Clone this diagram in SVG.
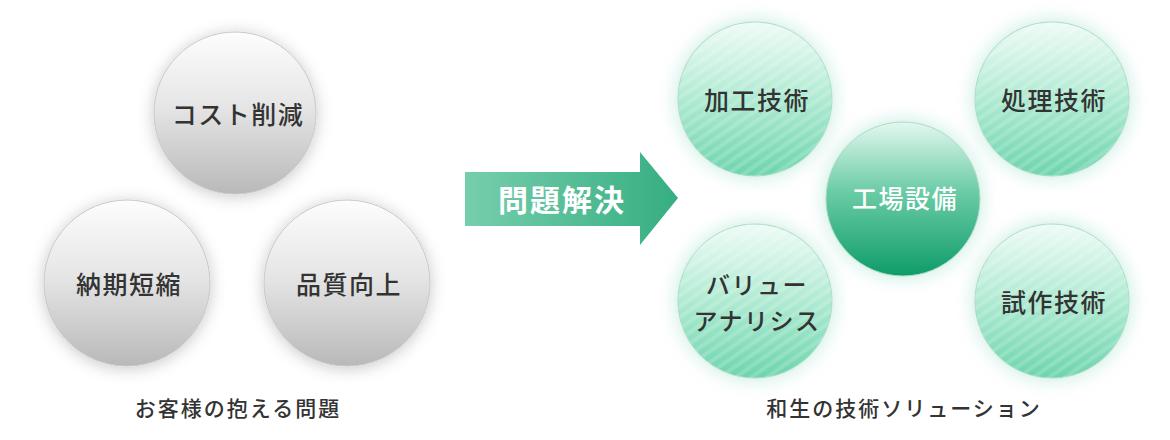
<svg xmlns="http://www.w3.org/2000/svg" width="1170" height="440" viewBox="0 0 1170 440">
<style>
.lbl{font-family:"Noto Sans CJK JP","Noto Sans CJK SC",sans-serif;fill:#333;font-size:25px;font-weight:500;text-anchor:middle;dominant-baseline:central;letter-spacing:1.5px}
.lbl2{font-size:24px}
.cap{font-family:"Noto Sans CJK JP","Noto Sans CJK SC",sans-serif;fill:#333;font-size:21px;font-weight:500;text-anchor:middle;dominant-baseline:central;letter-spacing:2px}
.gray{fill:url(#gGray);stroke:#c8c8c8;stroke-width:1;filter:url(#shGray)}
.green{fill:url(#gGreen);stroke:#a8dcc6;stroke-width:1;filter:url(#shGreen)}
.stripe{fill:url(#stripes)}
</style>
<defs>
<linearGradient id="gGray" x1="0" y1="0" x2="0" y2="1">
<stop offset="0" stop-color="#fdfdfd"/>
<stop offset="0.45" stop-color="#e6e6e6"/>
<stop offset="1" stop-color="#b9b9b9"/>
</linearGradient>
<linearGradient id="gGreen" x1="0" y1="0" x2="0" y2="1">
<stop offset="0" stop-color="#eefbf6"/>
<stop offset="0.45" stop-color="#b6ecd6"/>
<stop offset="1" stop-color="#6dd5ad"/>
</linearGradient>
<linearGradient id="gCenter" x1="0" y1="0" x2="0" y2="1">
<stop offset="0" stop-color="#e3f8ef"/>
<stop offset="0.45" stop-color="#6bcca6"/>
<stop offset="1" stop-color="#0f9c69"/>
</linearGradient>
<linearGradient id="gArrow" x1="0" y1="0" x2="1" y2="0">
<stop offset="0" stop-color="#76ceac"/>
<stop offset="1" stop-color="#36ae82"/>
</linearGradient>
<pattern id="stripes" width="9" height="9" patternUnits="userSpaceOnUse" patternTransform="rotate(-35)">
<rect x="0" y="0" width="9" height="4" fill="#ffffff" fill-opacity="0.16"/>
</pattern>
<filter id="shGray" x="-30%" y="-30%" width="160%" height="160%">
<feDropShadow dx="0" dy="2" stdDeviation="8" flood-color="#000" flood-opacity="0.22"/>
</filter>
<filter id="shGreen" x="-30%" y="-30%" width="160%" height="160%">
<feDropShadow dx="0" dy="0" stdDeviation="9" flood-color="#2fb883" flood-opacity="0.3"/>
</filter>
</defs>
<rect width="1170" height="440" fill="#ffffff"/>

<g id="connectors">
<path d="M465,172 H640 V152 L678,198 L640,245 V226 H465 Z" fill="url(#gArrow)"/>
<text x="562" y="198" font-family="Noto Sans CJK JP,sans-serif" font-size="30" font-weight="700" fill="#ffffff" text-anchor="middle" dominant-baseline="central" letter-spacing="2">問題解決</text>
</g>

<g id="cost">
<circle class="gray" cx="235" cy="113" r="81"/>
<text class="lbl" x="238" y="113">コスト削減</text>
</g>
<g id="nouki">
<circle class="gray" cx="127" cy="283" r="83"/>
<text class="lbl" x="129" y="283">納期短縮</text>
</g>
<g id="hinshitsu">
<circle class="gray" cx="347" cy="283" r="83"/>
<text class="lbl" x="349" y="283">品質向上</text>
</g>
<g id="caption-left">
<text class="cap" x="238" y="407">お客様の抱える問題</text>
</g>

<g id="kakou">
<circle class="green" cx="755" cy="99" r="77"/>
<circle class="stripe" cx="755" cy="99" r="77"/>
<text class="lbl" x="757" y="99">加工技術</text>
</g>
<g id="shori">
<circle class="green" cx="1052" cy="99" r="77"/>
<circle class="stripe" cx="1052" cy="99" r="77"/>
<text class="lbl" x="1054" y="99">処理技術</text>
</g>
<g id="koujou">
<circle cx="903" cy="199" r="77" fill="url(#gCenter)" stroke="#a8dcc6" stroke-width="1" filter="url(#shGreen)"/>
<text class="lbl" x="905" y="197" style="fill:#ffffff">工場設備</text>
</g>
<g id="value">
<circle class="green" cx="755" cy="301" r="77"/>
<circle class="stripe" cx="755" cy="301" r="77"/>
<text class="lbl lbl2" x="757" y="283">バリュー</text>
<text class="lbl lbl2" x="757" y="319">アナリシス</text>
</g>
<g id="shisaku">
<circle class="green" cx="1052" cy="301" r="77"/>
<circle class="stripe" cx="1052" cy="301" r="77"/>
<text class="lbl" x="1054" y="301">試作技術</text>
</g>
<g id="caption-right">
<text class="cap" x="904" y="407">和生の技術ソリューション</text>
</g>
</svg>
